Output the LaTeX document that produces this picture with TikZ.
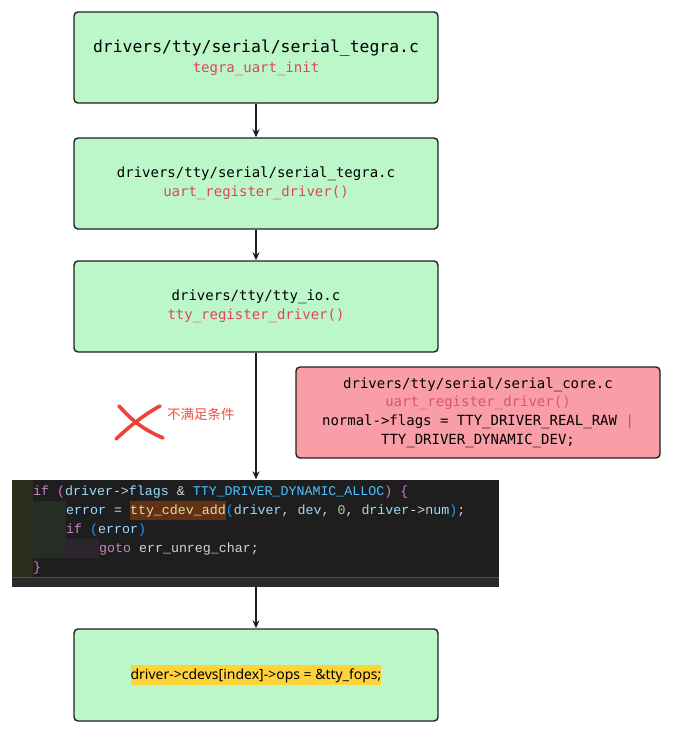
\documentclass[tikz,border=0pt]{standalone}
\usepackage{fontspec}
\usepackage{xcolor}
\usepackage{tikz}
\usetikzlibrary{calc, positioning, arrows.meta}
\setmainfont{Noto Sans}
\newfontfamily\pathfont{DejaVu Sans Mono}
\newfontfamily\codefont{Liberation Mono}
\newfontfamily\cjkfont{Noto Sans CJK SC}

\definecolor{boxgreen}{HTML}{BBF7C8}
\definecolor{boxred}{HTML}{F99EA7}
\definecolor{boxline}{HTML}{1F1F1F}
\definecolor{fnred}{HTML}{E0445F}
\definecolor{fnredsoft}{HTML}{D9566E}
\definecolor{crossred}{HTML}{EF4136}
\definecolor{notered}{HTML}{EE5040}
\definecolor{hlyellow}{HTML}{FFD43B}
% editor colours
\definecolor{codebg}{HTML}{1E1E1E}
\definecolor{gutter}{HTML}{2D2D1E}
\definecolor{indentA}{HTML}{252D25}
\definecolor{indentB}{HTML}{2D252D}
\definecolor{codestrip}{HTML}{2A2A2A}
\definecolor{ckw}{HTML}{C586C0}
\definecolor{cbrA}{HTML}{DA70D6}
\definecolor{cbrB}{HTML}{179FFF}
\definecolor{cvar}{HTML}{9CDCFE}
\definecolor{cconst}{HTML}{4FC1FF}
\definecolor{cfunc}{HTML}{DCDCAA}
\definecolor{cfuncbg}{HTML}{613214}
\definecolor{cnum}{HTML}{B5CEA8}
\definecolor{cplain}{HTML}{D4D4D4}

\newcommand{\bigpath}{\fontsize{16.4}{20}\selectfont\pathfont}
\newcommand{\smallpath}{\fontsize{14}{18.6}\selectfont\pathfont}
\newcommand{\hlbox}[2]{{\setlength\fboxsep{0pt}\colorbox{#1}{\strut #2}}}

\tikzset{
    ttyflow/.style={
        x=1pt, y=-1pt,
        >={Stealth[length=8pt, width=7pt]},
        block/.style={draw=boxline, line width=1.4pt, rectangle, rounded corners=4pt,
            minimum width=364pt, minimum height=91pt, fill=boxgreen, align=center, inner sep=0pt,
            font=\smallpath},
        core_block/.style={block, fill=boxred},
        arrow/.style={line width=1.4pt, draw=boxline, ->},
        codeline/.style={anchor=base west, inner sep=0pt, font=\codefont\fontsize{13.3}{19}\selectfont, text=cplain},
        cross/.style={crossred, line width=3.6pt, line cap=round}
    }
}

\begin{document}
\begin{tikzpicture}[ttyflow]
        \useasboundingbox (0,0) rectangle (672,733);

        % Call chain
        \node[block] (tegra) at (256,57.5)
            {{\bigpath drivers/tty/serial/serial\_tegra.c}\\[1.5pt]
             \textcolor{fnred}{tegra\_uart\_init}};
        \node[block] (uartreg) at (256,183.5)
            {drivers/tty/serial/serial\_tegra.c\\
             \textcolor{fnred}{uart\_register\_driver()}};
        \node[block] (ttyreg) at (256,306.5)
            {drivers/tty/tty\_io.c\\
             \textcolor{fnred}{tty\_register\_driver()}};

        % serial_core side note
        \node[core_block] (core) at (478,412.5)
            {drivers/tty/serial/serial\_core.c\\
             \textcolor{fnredsoft}{uart\_register\_driver()}\\
             normal->flags = TTY\_DRIVER\_REAL\_RAW \textcolor{black!55}{|}\\
             TTY\_DRIVER\_DYNAMIC\_DEV;};

        % Code snippet (editor screenshot)
        \node[fill=codebg, minimum width=487pt, minimum height=107pt, inner sep=0pt] (code) at (255.5,533) {};
        \fill[gutter] (12,480) rectangle (33,577);
        \fill[indentA] (33,501) rectangle (66,558);
        \fill[indentB] (66,539) rectangle (99,558);
        \fill[codestrip] (12,577) rectangle (499,586.5);
        \draw[black!70, line width=0.5pt] (12,577) -- (499,577);
        \node[codeline] (l1) at (33,495.5) {\textcolor{ckw}{if} \textcolor{cbrA}{(}\textcolor{cvar}{driver}->\textcolor{cvar}{flags} \& \textcolor{cconst}{TTY\_DRIVER\_DYNAMIC\_ALLOC}\textcolor{cbrA}{)} \textcolor{cbrA}{\{}};
        \node[codeline] (l2) at (66,514.5) {\textcolor{cvar}{error} = \hlbox{cfuncbg}{\textcolor{cfunc}{tty\_cdev\_add}}\textcolor{cbrB}{(}\textcolor{cvar}{driver}, \textcolor{cvar}{dev}, \textcolor{cnum}{0}, \textcolor{cvar}{driver}->\textcolor{cvar}{num}\textcolor{cbrB}{)};};
        \node[codeline] (l3) at (66,533.5) {\textcolor{ckw}{if} \textcolor{cbrB}{(}\textcolor{cvar}{error}\textcolor{cbrB}{)}};
        \node[codeline] (l4) at (99,552.5) {\textcolor{ckw}{goto} err\_unreg\_char;};
        \node[codeline] (l5) at (33,571.5) {\textcolor{cbrA}{\}}};

        % Result
        \node[block, minimum height=92pt] (fops) at (256,675)
            {\fontsize{14}{20}\selectfont\rmfamily\hlbox{hlyellow}{driver->cdevs[index]->ops = \&tty\_fops;}};

        % Condition not met
        \draw[cross] (119,406) .. controls (130,418) and (140,428) .. (163,438);
        \draw[cross] (160,406) .. controls (145,414) and (130,426) .. (116,439);
        \node[anchor=west, inner sep=0pt, text=notered, font=\cjkfont\fontsize{13.5}{16}\selectfont] (cond) at (167,414) {不满足条件};

        % Arrows
        \draw[arrow] (tegra) -- (uartreg);
        \draw[arrow] (uartreg) -- (ttyreg);
        \draw[arrow] (ttyreg.south) -- (ttyreg.south |- code.north);
        \draw[arrow] (fops.north |- code.south) -- (fops.north);

    \end{tikzpicture}
\end{document}
